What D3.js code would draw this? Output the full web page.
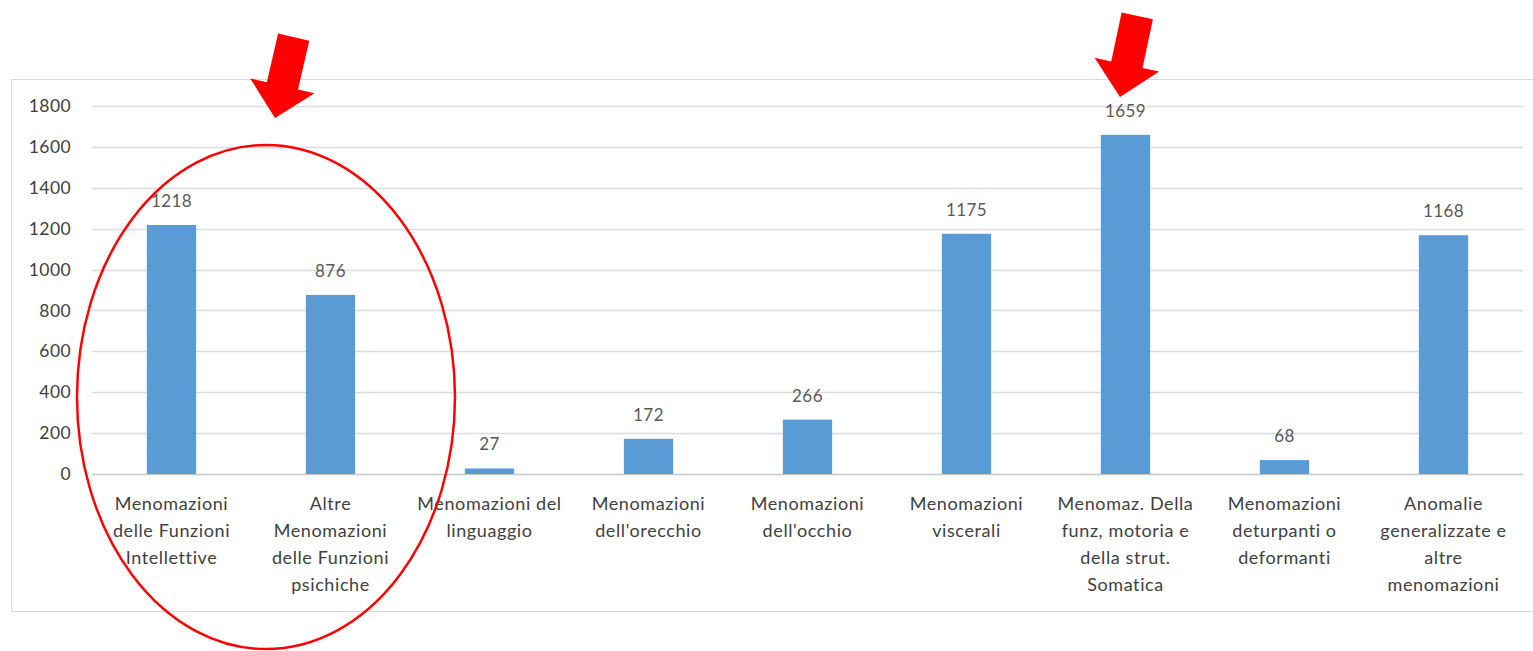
<!DOCTYPE html>
<html>
<head>
<meta charset="utf-8">
<script src="https://cdn.jsdelivr.net/npm/d3@7"></script>
<style>
  html, body { margin: 0; padding: 0; background: #ffffff; }
  svg { display: block; }
</style>
</head>
<body>
<svg id="chart" width="1533" height="651"></svg>
<script>
// Categories (each entry is the list of wrapped label lines)
const categories = [
  ["Menomazioni", "delle Funzioni", "Intellettive"],
  ["Altre", "Menomazioni", "delle Funzioni", "psichiche"],
  ["Menomazioni del", "linguaggio"],
  ["Menomazioni", "dell'orecchio"],
  ["Menomazioni", "dell'occhio"],
  ["Menomazioni", "viscerali"],
  ["Menomaz. Della", "funz, motoria e", "della strut.", "Somatica"],
  ["Menomazioni", "deturpanti o", "deformanti"],
  ["Anomalie", "generalizzate e", "altre", "menomazioni"]
];
const values = [1218, 876, 27, 172, 266, 1175, 1659, 68, 1168];
const yTicks = [0, 200, 400, 600, 800, 1000, 1200, 1400, 1600, 1800];

const svg = d3.select("#chart");
const font = "Lato, 'Open Sans', sans-serif";

// Chart frame
svg.append("rect")
  .attr("x", 11.5).attr("y", 79.5)
  .attr("width", 1540).attr("height", 532)
  .attr("fill", "#ffffff").attr("stroke", "#d9d9d9").attr("stroke-width", 1);

const plot = { left: 92, right: 1523, top: 106, bottom: 474 };

const x = d3.scaleBand()
  .domain(d3.range(categories.length))
  .range([plot.left, plot.right])
  .paddingInner(0.69).paddingOuter(0.345);

const y = d3.scaleLinear().domain([0, 1800]).range([plot.bottom, plot.top]);

// Horizontal gridlines
svg.append("g").selectAll("line").data(yTicks).join("line")
  .attr("x1", plot.left).attr("x2", plot.right)
  .attr("y1", d => Math.round(y(d)) + 0.5).attr("y2", d => Math.round(y(d)) + 0.5)
  .attr("stroke", d => d === 0 ? "#c8c8c8" : "#dcdcdc")
  .attr("stroke-width", 1.3);

// Y axis labels
const yAxis = d3.axisLeft(y).tickValues(yTicks).tickFormat(d3.format("d"))
  .tickSize(0).tickPadding(0);
const gy = svg.append("g").attr("transform", `translate(71,0)`).call(yAxis);
gy.select(".domain").remove();
gy.selectAll("text")
  .attr("font-family", font).attr("font-size", 17.5).attr("fill", "#404040")
  .attr("letter-spacing", 0.4);

// Bars
svg.append("g").selectAll("rect").data(values).join("rect")
  .attr("x", (d, i) => x(i))
  .attr("width", x.bandwidth())
  .attr("y", d => y(d))
  .attr("height", d => y(0) - y(d))
  .attr("fill", "#5b9bd5");

// Value labels
svg.append("g").selectAll("text").data(values).join("text")
  .attr("x", (d, i) => x(i) + x.bandwidth() / 2)
  .attr("y", d => y(d) - 18)
  .attr("text-anchor", "middle")
  .attr("font-family", font).attr("font-size", 17).attr("fill", "#595959")
  .attr("letter-spacing", 0.4)
  .text(d => d);

// Category labels
const cat = svg.append("g").selectAll("text").data(categories).join("text")
  .attr("x", (d, i) => x(i) + x.bandwidth() / 2)
  .attr("y", 510)
  .attr("text-anchor", "middle")
  .attr("font-family", font).attr("font-size", 18).attr("fill", "#404040")
  .attr("letter-spacing", 0.6);
cat.selectAll("tspan").data((d, i) => d.map(t => ({ t, i }))).join("tspan")
  .attr("x", d => x(d.i) + x.bandwidth() / 2)
  .attr("dy", (d, j) => j === 0 ? 0 : 27)
  .text(d => d.t);

// Red ellipse around the first two categories
svg.append("ellipse")
  .attr("cx", 266).attr("cy", 397).attr("rx", 189).attr("ry", 252)
  .attr("fill", "none").attr("stroke", "#ff0000").attr("stroke-width", 2.5);

// Red arrows pointing down at highlighted categories
const arrowShape = "M-16,0 L16,0 L16,50 L33,50 L0,83 L-33,50 L-16,50 Z";
const arrowPlacements = [
  { tipX: 275, tipY: 118, angle: 13 },
  { tipX: 1120, tipY: 97, angle: 12 }
];
svg.append("g").selectAll("path").data(arrowPlacements).join("path")
  .attr("d", arrowShape)
  .attr("transform", d => `translate(${d.tipX},${d.tipY}) rotate(${d.angle}) translate(0,-83)`)
  .attr("fill", "#ff0000");
</script>
</body>
</html>
